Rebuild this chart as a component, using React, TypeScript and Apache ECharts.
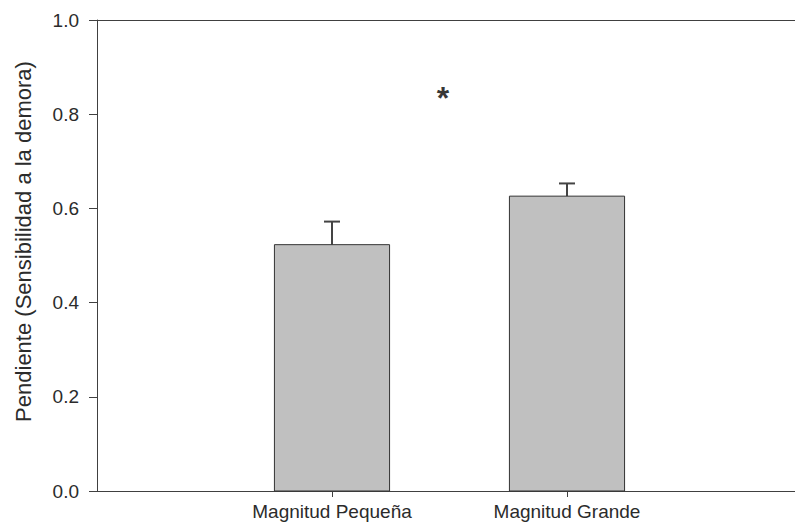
import React, { useEffect, useRef } from "react";
import * as echarts from "echarts";

// Group names and their slots on the numeric x axis
const categories = ["Magnitud Pequeña", "Magnitud Grande"];
const categoryPositions = [1, 2];

// Mean slope (delay sensitivity) and upper error (SEM) per group
const slopeMeans = [0.523, 0.626];
const slopeErrors = [0.049, 0.027];

// Significance marker between the two groups
const significanceLabel = "*";
const significancePoint = [1.472, 0.835];

const yTickValues = [0, 0.2, 0.4, 0.6, 0.8, 1.0];

const BAR_WIDTH_UNITS = 0.49;
const CAP_HALF = 8;
const AXIS_COLOR = "#404040";
const TEXT_COLOR = "#2b2b2b";
const FONT = "Arial, 'Liberation Sans', sans-serif";

export default function App() {
  const ref = useRef<HTMLDivElement>(null);

  useEffect(() => {
    if (!ref.current) return;
    const chart = echarts.init(ref.current, null, { renderer: "svg" });

    const barData = categoryPositions.map((x, i) => [x, slopeMeans[i], slopeErrors[i]]);

    const option: any = {
      animation: false,
      backgroundColor: "#ffffff",
      grid: {
        left: 97,
        right: -7,
        top: 20,
        bottom: 38,
        outerBoundsMode: "none",
        containLabel: false,
        show: false,
      },
      xAxis: [
        {
          type: "value",
          min: 0,
          max: 3,
          interval: 1,
          splitLine: { show: false },
          axisLine: { show: true, lineStyle: { color: AXIS_COLOR, width: 1 } },
          axisTick: {
            show: true,
            customValues: categoryPositions,
            length: 6,
            lineStyle: { color: AXIS_COLOR },
          },
          axisLabel: {
            customValues: categoryPositions,
            formatter: (v: number) => {
              const idx = categoryPositions.indexOf(Math.round(v));
              return idx >= 0 ? categories[idx] : "";
            },
            fontSize: 19,
            fontFamily: FONT,
            color: TEXT_COLOR,
            margin: 11,
          },
        },
        {
          // top frame line
          type: "value",
          position: "top",
          min: 0,
          max: 3,
          splitLine: { show: false },
          axisLine: { show: true, lineStyle: { color: AXIS_COLOR, width: 1 } },
          axisTick: { show: false },
          axisLabel: { show: false },
        },
      ],
      yAxis: {
        type: "value",
        min: 0,
        max: 1,
        interval: 0.2,
        name: "Pendiente (Sensibilidad a la demora)",
        nameLocation: "middle",
        nameGap: 63,
        nameTextStyle: {
          fontSize: 22,
          fontFamily: FONT,
          color: TEXT_COLOR,
          padding: [0, 0, 0, 28],
        },
        splitLine: { show: false },
        axisLine: { show: true, lineStyle: { color: AXIS_COLOR, width: 1 } },
        axisTick: {
          show: true,
          customValues: yTickValues,
          length: 8,
          lineStyle: { color: AXIS_COLOR },
        },
        axisLabel: {
          customValues: yTickValues,
          formatter: (v: number) => v.toFixed(1),
          fontSize: 19,
          fontFamily: FONT,
          color: TEXT_COLOR,
          margin: 18,
        },
      },
      series: [
        {
          type: "custom",
          data: barData,
          clip: false,
          renderItem: (params: any, api: any) => {
            const x = api.value(0);
            const y = api.value(1);
            const err = api.value(2);
            const [cx, top] = api.coord([x, y]);
            const [, base] = api.coord([x, 0]);
            const [, errTop] = api.coord([x, y + err]);
            const halfW = api.size([BAR_WIDTH_UNITS, 0])[0] / 2;
            return {
              type: "group",
              children: [
                {
                  type: "line",
                  shape: { x1: cx, y1: top, x2: cx, y2: errTop },
                  style: { stroke: "#444444", lineWidth: 2 },
                },
                {
                  type: "line",
                  shape: { x1: cx - CAP_HALF, y1: errTop, x2: cx + CAP_HALF, y2: errTop },
                  style: { stroke: "#444444", lineWidth: 2 },
                },
                {
                  type: "rect",
                  shape: { x: cx - halfW, y: top, width: halfW * 2, height: base - top },
                  style: { fill: "#c0c0c0", stroke: "#333333", lineWidth: 1 },
                },
              ],
            };
          },
        },
        {
          type: "scatter",
          data: [significancePoint],
          symbolSize: 0,
          silent: true,
          label: {
            show: true,
            position: "inside",
            formatter: significanceLabel,
            fontSize: 32,
            fontWeight: "bold",
            fontFamily: FONT,
            color: "#000000",
          },
        },
      ],
    };

    chart.setOption(option);
    return () => chart.dispose();
  }, []);

  return (
    <div
      ref={ref}
      style={{ position: "fixed", left: 0, top: 0, width: 795, height: 529 }}
    />
  );
}
